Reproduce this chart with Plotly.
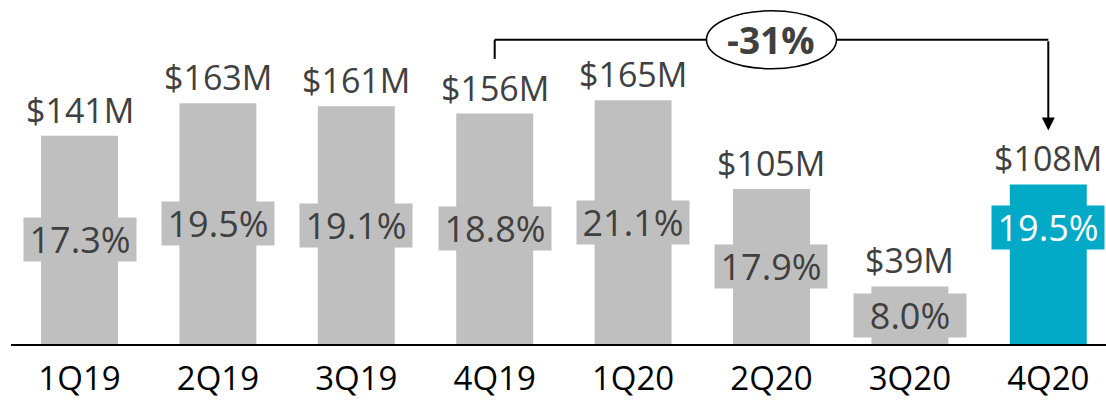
import plotly.graph_objects as go

quarters = ["1Q19", "2Q19", "3Q19", "4Q19", "1Q20", "2Q20", "3Q20", "4Q20"]
revenue_m = [141, 163, 161, 156, 165, 105, 39, 108]
margin_pct = [17.3, 19.5, 19.1, 18.8, 21.1, 17.9, 8.0, 19.5]
change_label = "-31%"

GRAY = "#bfbfbf"
TEAL = "#00aac6"
TXT = "#404040"
FONT = "Open Sans"

colors = [GRAY] * (len(quarters) - 1) + [TEAL]
idx = list(range(len(quarters)))

fig = go.Figure()
fig.add_trace(go.Bar(
    x=idx, y=revenue_m, marker=dict(color=colors, line=dict(width=0)),
    width=0.556, hoverinfo="skip",
))

anns = []
for i, (v, p) in enumerate(zip(revenue_m, margin_pct)):
    anns.append(dict(
        x=i, y=v, xref="x", yref="y", text=f"${v}M", showarrow=False,
        yanchor="middle", yshift=26,
        font=dict(family=FONT, size=34, color=TXT),
    ))
    last = i == len(quarters) - 1
    anns.append(dict(
        x=i, y=v / 2, xref="x", yref="y", text=f"{p:.1f}%", showarrow=False,
        yanchor="middle", yshift=37 if last else 0,
        width=110, height=41, bgcolor=TEAL if last else GRAY,
        font=dict(family=FONT, size=36, color="white" if last else TXT),
    ))

# bracket from 4Q19 to 4Q20
i0, i1 = 3, 7
top_y = max(revenue_m) + 41
start_y = revenue_m[i0] + 37
tip_y = revenue_m[i1] + 36.5
mid_i = 5

shapes = [
    dict(type="line", xref="x", yref="y", x0=i0, x1=i0, y0=start_y, y1=top_y,
         line=dict(color="black", width=2)),
    dict(type="line", xref="x", yref="y", x0=i0, x1=i1, y0=top_y, y1=top_y,
         line=dict(color="black", width=2)),
    dict(type="circle", xref="x", yref="y", xsizemode="pixel", ysizemode="pixel",
         xanchor=mid_i, yanchor=top_y, x0=-65, x1=65, y0=-29, y1=29,
         fillcolor="white", line=dict(color="black", width=1.5)),
]
anns.append(dict(
    x=i1, y=tip_y, xref="x", yref="y", ax=i1, ay=top_y, axref="x", ayref="y",
    showarrow=True, arrowhead=2, arrowsize=1.3, arrowwidth=2, arrowcolor="black",
    text="",
))
anns.append(dict(
    x=mid_i, y=top_y, xref="x", yref="y", text=f"<b>{change_label}</b>",
    showarrow=False, font=dict(family=FONT, size=37, color=TXT),
))

fig.update_layout(
    width=1106, height=400,
    margin=dict(l=11, r=0, t=0, b=53),
    paper_bgcolor="white", plot_bgcolor="white",
    showlegend=False, annotations=anns, shapes=shapes,
    xaxis=dict(
        tickmode="array", tickvals=idx, ticktext=quarters,
        range=[-0.495, 7.417], showline=True, linecolor="black", linewidth=2,
        showgrid=False, zeroline=False, ticks="", ticklabelstandoff=4,
        tickfont=dict(family=FONT, size=33, color="black"),
    ),
    yaxis=dict(range=[0, 232.9], visible=False, showgrid=False, zeroline=False),
)

fig.write_html("out.html", config={"displayModeBar": False},
               post_script="document.body.style.margin='0';")
